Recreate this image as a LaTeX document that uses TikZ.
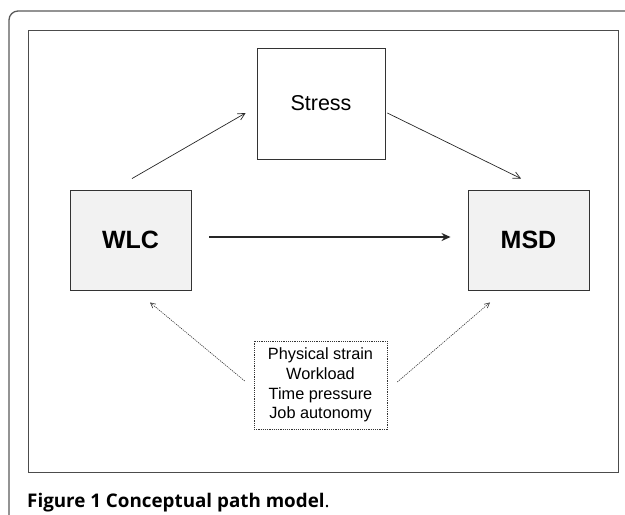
\documentclass[tikz,border=0pt]{standalone}
\usepackage{fontspec}
\setmainfont{Liberation Sans}
\newfontfamily\capfont{Open Sans}
\usetikzlibrary{arrows.meta,calc}
\begin{document}
\begin{tikzpicture}[x=1pt,y=-1pt,
  mainbox/.style={draw=black!80,line width=0.9pt,fill=black!5,minimum width=121pt,minimum height=100pt,inner sep=0pt,font=\fontsize{25}{28}\selectfont\bfseries},
  stressbox/.style={draw=black!80,line width=0.7pt,fill=white,minimum width=128pt,minimum height=111pt,inner sep=0pt},
  dotbox/.style={draw=black!80,line width=0.6pt,dash pattern=on 1.2pt off 1pt,minimum width=133pt,minimum height=88pt,inner sep=0pt,align=center,font=\fontsize{16.3}{19.8}\selectfont},
  thinarrow/.style={draw=black!85,line width=0.7pt,-{Straight Barb[length=7pt,width=7pt]}},
  thickarrow/.style={draw=black!85,line width=1.7pt,-{Stealth[length=9pt,width=8pt]}},
  dotarrow/.style={draw=black!80,line width=0.6pt,dash pattern=on 1.2pt off 1pt,-{Straight Barb[length=5pt,width=5pt]}}
]
\useasboundingbox (0,0) rectangle (625,515);
% outer frame
\draw[draw=black!65,line width=1.3pt,rounded corners=9pt] (9,520) -- (9,11) -- (630,11);
% inner frame
\draw[draw=black!70,line width=1pt] (28,30) rectangle (618.5,472);
% nodes
\node[stressbox] (S) at (321,103.5) {\fontsize{21.5}{24}\selectfont Stress};
\node[mainbox] (W) at (130.5,240) {WLC};
\node[mainbox] (M) at (528.5,240) {MSD};
\node[dotbox] (F) at (320.5,385) {Physical strain\\Workload\\Time pressure\\Job autonomy};
% connectors
\draw[thickarrow] ($(W.east)+(18,-3)$) -- ($(M.west)+(-17,-3)$);
\draw[thinarrow] ($(W.north)+(1.5,-11)$) -- ($(S.west)+(-11,9.5)$);
\draw[thinarrow] ($(S.east)+(2,9.5)$) -- ($(M.north)+(-7.5,-11)$);
\draw[dotarrow] ($(F.west)+(-9,-4)$) -- ($(W.south)+(19.5,12)$);
\draw[dotarrow] ($(F.east)+(10,-3)$) -- ($(M.south)+(-38.5,12)$);
% caption
\node[anchor=base west,inner sep=0pt,font=\capfont\fontsize{18.8}{21}\selectfont] (cap) at (27,507) {\textbf{Figure 1 Conceptual path model}.};
\end{tikzpicture}
\end{document}
